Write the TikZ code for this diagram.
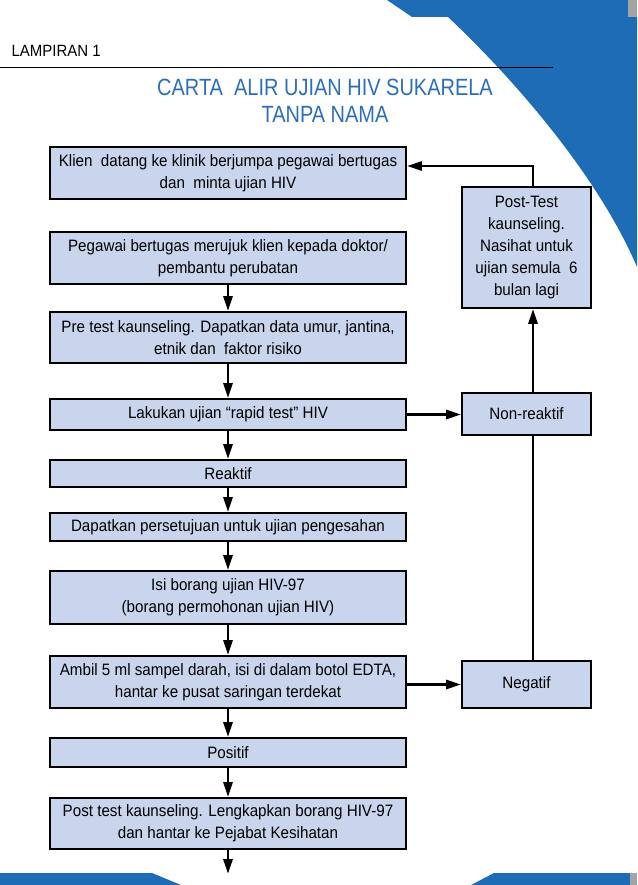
\documentclass[tikz,border=0pt]{standalone}
\usepackage{fontspec}
\setmainfont[FakeStretch=0.92]{Liberation Sans}
\newfontfamily\titlefont[FakeStretch=0.85]{Liberation Sans}
\usetikzlibrary{arrows.meta}
\definecolor{boxfill}{HTML}{C8D5EC}
\definecolor{pageblue}{HTML}{1F6CB6}
\definecolor{titleblue}{HTML}{2A6EBC}
\definecolor{edgegray}{HTML}{A4A4A4}

\begin{document}
\begin{tikzpicture}[x=1pt,y=-1pt,
    stepbox/.style={draw=black,line width=1.8pt,fill=boxfill,align=center,inner sep=0pt,
        font=\fontsize{16.5}{22}\selectfont},
    mainbox/.style={stepbox,minimum width=356pt},
    sidebox/.style={stepbox,minimum width=129pt},
    flow/.style={line width=2.8pt,-{Triangle[length=15pt,width=9pt]}},
    link/.style={line width=2.8pt}]
    \useasboundingbox (0,0) rectangle (637,885);
    \fill[pageblue] (387,0) -- (628,0) -- (628,17) -- (637,17) -- (637,267)
        .. controls (600,180) and (520,85) .. (448,17) -- (412,17) -- cycle;
    \fill[edgegray] (628,0) rectangle (637,17);
    \fill[pageblue] (0,873) -- (152,873) -- (181,885) -- (0,885) -- cycle;
    \fill[pageblue] (471,885) -- (494,873) -- (630,873) -- (630,885) -- cycle;
    \fill[edgegray] (630,873) rectangle (637,885);

    \node[anchor=west,font=\fontsize{16.3}{18}\selectfont] (lampiran) at (8,51) {LAMPIRAN 1};
    \draw[line width=0.9pt] (0,67) -- (553,67);
    \node[titleblue,align=center,font=\titlefont\fontsize{23.5}{27}\selectfont] (title) at (325,101)
        {CARTA\ \ ALIR UJIAN HIV SUKARELA\\TANPA NAMA};

    \node[mainbox,minimum height=52pt] (klien) at (228,173)
        {Klien\ \ datang ke klinik berjumpa pegawai bertugas\\dan\ \ minta ujian HIV};
    \node[mainbox,minimum height=52pt] (rujuk) at (228,258)
        {Pegawai bertugas merujuk klien kepada doktor/\\pembantu perubatan};
    \node[mainbox,minimum height=51pt] (pretest) at (228,337.5)
        {Pre test kaunseling. Dapatkan data umur, jantina,\\etnik dan\ \ faktor risiko};
    \node[mainbox,minimum height=31pt] (rapid) at (228,414.5) {Lakukan ujian “rapid test” HIV};
    \node[mainbox,minimum height=27pt] (reaktif) at (228,473.5) {Reaktif};
    \node[mainbox,minimum height=28pt] (setuju) at (228,527) {Dapatkan persetujuan untuk ujian pengesahan};
    \node[mainbox,minimum height=53pt] (borang) at (228,597.5)
        {Isi borang ujian HIV-97\\(borang permohonan ujian HIV)};
    \node[mainbox,minimum height=52pt] (sampel) at (228,682)
        {Ambil 5 ml sampel darah, isi di dalam botol EDTA,\\hantar ke pusat saringan terdekat};
    \node[mainbox,minimum height=29pt] (positif) at (228,752.5) {Positif};
    \node[mainbox,minimum height=51pt] (posttest) at (228,823.5)
        {Post test kaunseling. Lengkapkan borang HIV-97\\dan hantar ke Pejabat Kesihatan};

    \node[sidebox,minimum height=121pt] (nasihat) at (526.5,247.5)
        {Post-Test\\kaunseling.\\Nasihat untuk\\ujian semula\ \ 6\\bulan lagi};
    \node[sidebox,minimum height=42pt] (nonreaktif) at (526.5,414) {Non-reaktif};
    \node[sidebox,minimum height=47pt] (negatif) at (526.5,684.5) {Negatif};

    \coordinate (spine) at (533,166);
    \coordinate (end) at (228,874);

    \draw[flow] (rujuk) -- (pretest);
    \draw[flow] (pretest) -- (rapid);
    \draw[flow] (rapid) -- (reaktif);
    \draw[flow] (reaktif) -- (setuju);
    \draw[flow] (setuju) -- (borang);
    \draw[flow] (borang) -- (sampel);
    \draw[flow] (sampel) -- (positif);
    \draw[flow] (positif) -- (posttest);
    \draw[flow] (posttest) -- (end);

    \draw[flow] (rapid.east) -- (rapid.east -| nonreaktif.west);
    \draw[flow] (sampel.east |- negatif.west) -- (negatif.west);
    \draw[link] (negatif.north -| spine) -- (nonreaktif.south -| spine);
    \draw[flow] (nonreaktif.north -| spine) -- (nasihat.south -| spine);
    \draw[flow] (nasihat.north -| spine) -- (spine) -- (klien.east |- spine);
\end{tikzpicture}
\end{document}
